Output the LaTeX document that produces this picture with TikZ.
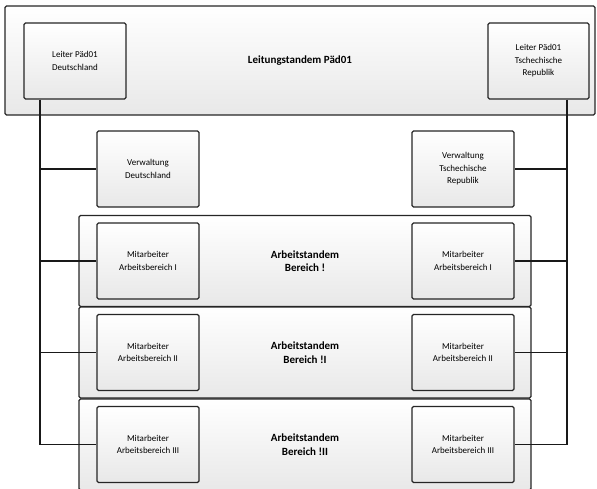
\documentclass[tikz,border=0pt]{standalone}
\usepackage{fontspec}
\setmainfont{Carlito}
\usepackage{tikz}

\tikzset{
	panel/.style = {draw=black!85, line width=1.3pt, rounded corners=1.5pt,
		top color=white, bottom color=black!9, inner sep=0pt},
	smallbox/.style = {panel, minimum width=102, minimum height=76,
		align=center, font=\fontsize{9}{12.5}\selectfont},
	band/.style = {panel, minimum width=452, minimum height=91,
		align=center, font=\fontsize{11}{13.5}\selectfont\bfseries},
	link/.style = {draw=black!90, line width=1.3pt}
}

\begin{document}
\begin{tikzpicture}[x=1pt,y=-1pt]
		\useasboundingbox (0,0) rectangle (597,488);
		\clip (0,0) rectangle (597,488);
		% Leitung
		\node[panel, minimum width=590, minimum height=109, font=\fontsize{11}{13.5}\selectfont\bfseries]
			(top) at (300,60.5) {Leitungstandem Päd01};
		\node[smallbox] (ld) at (75,61) {Leiter Päd01\\Deutschland};
		\node[smallbox, minimum width=101] (lc) at (538.5,61) {Leiter Päd01\\Tschechische\\Republik};
		% Verwaltung
		\node[smallbox] (vd) at (148,169) {Verwaltung\\Deutschland};
		\node[smallbox] (vc) at (463,169) {Verwaltung\\Tschechische\\Republik};
		% Arbeitstandems
		\foreach \i/\y/\b/\r in {1/261/!/I, 2/352.5/!I/II, 3/444.5/!II/III} {
			\node[band] (band\i) at (305,\y) {Arbeitstandem\\Bereich \b};
			\node[smallbox] (md\i) at (148,\y) {Mitarbeiter\\Arbeitsbereich \r};
			\node[smallbox] (mc\i) at (463,\y) {Mitarbeiter\\Arbeitsbereich \r};
		}
		% Linien
		\coordinate (l) at (40,444.5);
		\coordinate (r) at (567,444.5);
		\draw[link] (ld.south -| l) -- (l);
		\draw[link] (lc.south -| r) -- (r);
		\draw[link] (vd.west -| l) -- (vd.west);
		\draw[link] (vc.east -| r) -- (vc.east);
		\foreach \i in {1,2,3} {
			\draw[link] (md\i.west -| l) -- (md\i.west);
			\draw[link] (mc\i.east -| r) -- (mc\i.east);
		}
	\end{tikzpicture}
\end{document}
